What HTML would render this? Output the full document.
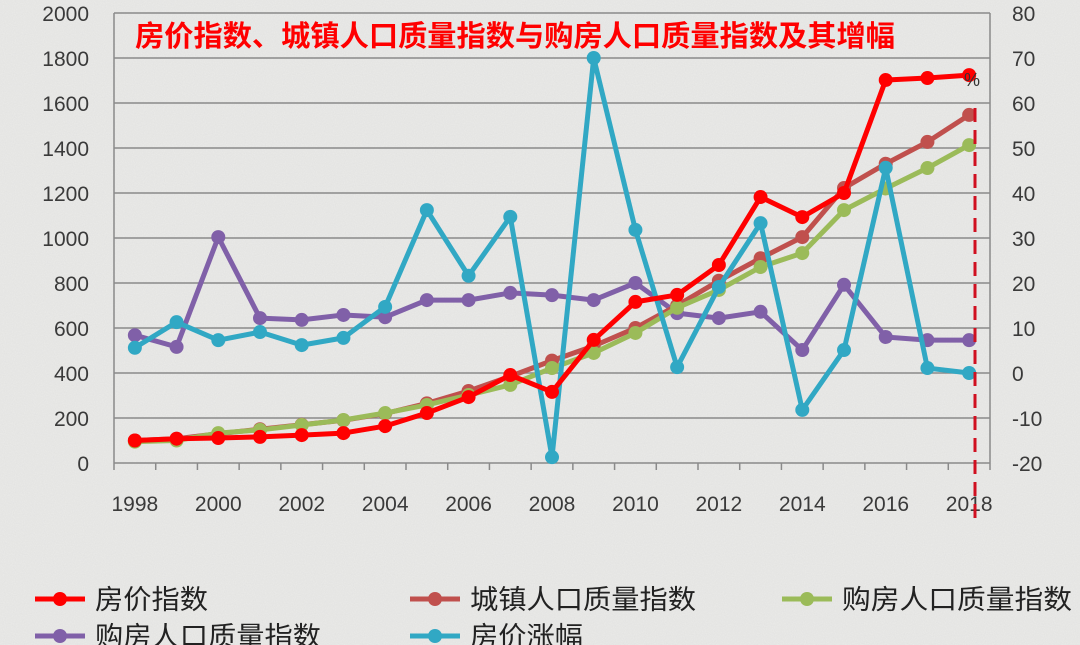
<!DOCTYPE html>
<html><head><meta charset="utf-8"><style>
html,body{margin:0;padding:0;background:#e9e9e7;}
svg{display:block;font-family:"Liberation Sans","Noto Sans CJK SC",sans-serif;}
</style></head><body>
<svg id="c" width="1080" height="645" viewBox="0 0 1080 645" xmlns="http://www.w3.org/2000/svg">
<defs>
<filter id="n" x="0" y="0" width="100%" height="100%">
<feTurbulence type="fractalNoise" baseFrequency="0.9" numOctaves="2" seed="3"/>
<feColorMatrix type="matrix" values="0 0 0 0 0.5  0 0 0 0 0.5  0 0 0 0 0.5  0 0 0 0.2 0"/>
</filter>
</defs>
<rect width="1080" height="645" fill="#ebebe9"/>
<rect width="1080" height="645" filter="url(#n)"/>
<g id="g"></g>
</svg>
<script>
const g=document.getElementById('g');
const NS='http://www.w3.org/2000/svg';
function el(t,a,txt){const e=document.createElementNS(NS,t);for(const k in a)e.setAttribute(k,a[k]);if(txt!==undefined)e.textContent=txt;g.appendChild(e);return e;}
const L=114,R=990,T=13,B=463,step=(R-L)/21;
const X=i=>L+step*(i+0.5);
const YL=v=>B-v*0.225;
const YR=v=>373-v*4.5;
for(let k=0;k<=10;k++){const y=T+k*45;el('line',{x1:L,x2:R,y1:y,y2:y,stroke:'#8a8a8a','stroke-width':1.5});}
el('line',{x1:L,x2:L,y1:T,y2:B,stroke:'#8a8a8a','stroke-width':1.5});
el('line',{x1:R,x2:R,y1:T,y2:B,stroke:'#8a8a8a','stroke-width':1.5});
for(let i=0;i<=21;i++){const x=L+step*i;el('line',{x1:x,x2:x,y1:B,y2:B+7,stroke:'#8a8a8a','stroke-width':1.5});}
for(let k=0;k<=10;k++){el('text',{x:89,y:B-k*45+8,'text-anchor':'end','font-size':21,fill:'#3a3a3a'},String(k*200));}
for(let k=0;k<=10;k++){el('text',{x:1012,y:B-k*45+8,'font-size':21,fill:'#3a3a3a'},String(-20+k*10));}
for(let i=0;i<=20;i+=2){el('text',{x:X(i),y:511,'text-anchor':'middle','font-size':21,fill:'#3a3a3a'},String(1998+i));}
const red=[100,108,111,116,124,133,164,222,293,391,316,547,716,747,880,1182,1093,1200,1702,1711,1724];
const brown=[100,108,130,150,170,190,220,265,320,385,455,520,600,700,810,910,1004,1222,1330,1427,1547];
const green=[95,100,133,147,169,191,222,258,302,347,422,489,578,690,769,871,933,1124,1220,1311,1413];
const purple=[8.4,5.8,30.2,12.2,11.8,12.9,12.4,16.2,16.2,17.8,17.3,16.2,20,13.3,12.2,13.6,5.1,19.6,8,7.3,7.3];
const cyan=[5.6,11.3,7.3,9.1,6.2,7.8,14.7,36.2,21.6,34.7,-18.7,70,31.8,1.3,19.1,33.3,-8.2,5.1,45.6,1.1,0];
function series(d,f,c){const pts=d.map((v,i)=>[X(i),f(v)]);el('polyline',{points:pts.map(p=>p.join(',')).join(' '),fill:'none',stroke:c,'stroke-width':5,'stroke-linejoin':'round'});pts.forEach(p=>el('circle',{cx:p[0],cy:p[1],r:7,fill:c}));}
series(purple,YR,'#8060a8');
series(brown,YL,'#c0504d');
series(green,YL,'#9bbb59');
series(cyan,YR,'#31a8c4');
series(red,YL,'#ff0000');
el('line',{x1:975,x2:975,y1:108,y2:525,stroke:'#d01020','stroke-width':3,'stroke-dasharray':'14,8'});
el('text',{x:964,y:86,'font-size':18,fill:'#333'},'%');
el('text',{x:135,y:46,'font-size':29,'font-weight':'bold',fill:'#ff0000',textLength:760,lengthAdjust:'spacingAndGlyphs'},'房价指数、城镇人口质量指数与购房人口质量指数及其增幅');
function leg(x,y,c,t,w){el('line',{x1:x,x2:x+50,y1:y,y2:y,stroke:c,'stroke-width':5});el('circle',{cx:x+25,cy:y,r:7,fill:c});el('text',{x:x+60,y:y+10,'font-size':27,fill:'#222',textLength:w,lengthAdjust:'spacingAndGlyphs'},t);}
leg(35,599,'#ff0000','房价指数',113);
leg(410,599,'#c0504d','城镇人口质量指数',226);
leg(782,599,'#9bbb59','购房人口质量指数',230);
leg(35,636,'#8060a8','购房人口质量指数',226);
leg(410,636,'#31a8c4','房价涨幅',113);
</script>
</body></html>
